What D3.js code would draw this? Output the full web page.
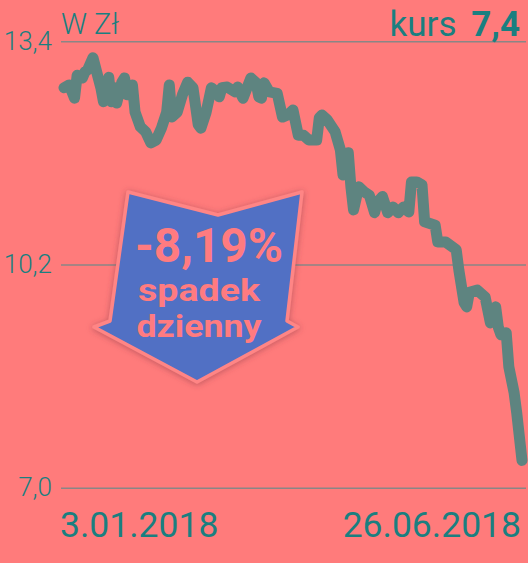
<!DOCTYPE html>
<html><head><meta charset="utf-8">
<script src="https://cdn.jsdelivr.net/npm/d3@7"></script>
<style>
html,body{margin:0;padding:0;background:#FF7B7B;}
svg{display:block;}
text{font-family:Roboto,"Noto Sans",sans-serif;}
</style></head>
<body><svg id="c" width="528" height="563"></svg>
<script>
const dates = ["2018-01-03","2018-01-05","2018-01-07","2018-01-08","2018-01-10","2018-01-11","2018-01-12","2018-01-14","2018-01-16","2018-01-17",
"2018-01-18","2018-01-20","2018-01-21","2018-01-22","2018-01-23","2018-01-25","2018-01-26","2018-01-27","2018-01-29","2018-01-30",
"2018-02-01","2018-02-03","2018-02-05","2018-02-07","2018-02-09","2018-02-11","2018-02-12","2018-02-13","2018-02-15","2018-02-17",
"2018-02-19","2018-02-21","2018-02-23","2018-02-24","2018-02-26","2018-02-28","2018-03-02","2018-03-03","2018-03-04","2018-03-06",
"2018-03-09","2018-03-10","2018-03-12","2018-03-15","2018-03-17","2018-03-18","2018-03-19","2018-03-20","2018-03-22","2018-03-25",
"2018-03-27","2018-03-29","2018-03-31","2018-04-02","2018-04-04","2018-04-06","2018-04-09","2018-04-10","2018-04-11","2018-04-13",
"2018-04-16","2018-04-18","2018-04-19","2018-04-20","2018-04-21","2018-04-22","2018-04-23","2018-04-25","2018-04-27","2018-04-29",
"2018-05-01","2018-05-02","2018-05-04","2018-05-06","2018-05-08","2018-05-10","2018-05-12","2018-05-14","2018-05-15","2018-05-17",
"2018-05-19","2018-05-20","2018-05-24","2018-05-25","2018-05-28","2018-06-01","2018-06-02","2018-06-04","2018-06-05","2018-06-06",
"2018-06-09","2018-06-12","2018-06-14","2018-06-16","2018-06-17","2018-06-18","2018-06-20","2018-06-21","2018-06-23","2018-06-24",
"2018-06-26"];
const values = [12.74,12.78,12.59,12.92,12.88,12.97,13.00,13.17,12.88,12.74,
12.54,12.89,12.54,12.74,12.52,12.82,12.88,12.64,12.78,12.39,
12.18,12.11,11.95,11.99,12.16,12.39,12.78,12.32,12.39,12.64,
12.82,12.74,12.21,12.16,12.39,12.74,12.68,12.61,12.74,12.75,
12.68,12.75,12.59,12.88,12.81,12.61,12.59,12.81,12.68,12.66,
12.32,12.35,12.42,12.06,12.06,11.99,11.99,12.31,12.35,12.28,
12.11,11.85,11.49,11.52,11.81,11.32,10.99,11.32,11.25,11.20,
10.95,11.10,11.18,10.95,11.03,10.95,11.03,10.96,11.39,11.39,
11.35,10.82,10.77,10.53,10.53,10.42,10.13,9.66,9.60,9.81,
9.84,9.74,9.37,9.60,9.31,9.20,9.23,8.74,8.37,8.08,
7.40];
const yTicks = [7.0, 10.2, 13.4];
const yTickLabels = ["7,0", "10,2", "13,4"];
const unitLabel = "W Zł";
const kursLabel = "kurs";
const kursValue = "7,4";
const xLabels = ["3.01.2018", "26.06.2018"];
const badge = ["-8,19%", "spadek", "dzienny"];

const parse = d3.timeParse("%Y-%m-%d");
const data = dates.map((d,i)=>({date:parse(d), v:values[i]}));

const svg = d3.select("#c");
const teal = "#1A7F80";
const x = d3.scaleTime().domain([parse(dates[0]), parse(dates[dates.length-1])]).range([64, 522]);
const y = d3.scaleLinear().domain([7.0, 13.4]).range([488.3, 41.7]);

svg.append("rect").attr("width",528).attr("height",563).attr("fill","#FF7B7B");

// gridlines + labels
const g = svg.append("g");
yTicks.forEach((t,i)=>{
  g.append("line").attr("x1",61).attr("x2",526).attr("y1",y(t)).attr("y2",y(t))
    .attr("stroke","#8A8686").attr("stroke-width",1.6);
  g.append("text").attr("x",52).attr("y",y(t)+8).attr("text-anchor","end")
    .attr("font-size",26).attr("font-weight",300).attr("fill",teal).text(yTickLabels[i]);
});

svg.append("text").attr("x",61).attr("y",34).attr("font-size",29).attr("font-weight",300)
  .attr("fill",teal).text(unitLabel);
const kt = svg.append("text").attr("x",520).attr("y",36).attr("text-anchor","end").attr("fill",teal);
kt.append("tspan").attr("font-size",35).attr("font-weight",400).text(kursLabel + " ");
kt.append("tspan").attr("font-size",35).attr("font-weight",700).attr("dx",6).text(kursValue);

// line
svg.append("path").datum(data)
  .attr("d", d3.line().x(d=>x(d.date)).y(d=>y(d.v)))
  .attr("fill","none").attr("stroke","#5E8480").attr("stroke-width",11)
  .attr("stroke-linejoin","round").attr("stroke-linecap","round");

// x labels
svg.append("text").attr("x",60).attr("y",537).attr("font-size",35.5).attr("fill",teal).text(xLabels[0]);
svg.append("text").attr("x",521).attr("y",537).attr("text-anchor","end").attr("font-size",35.5).attr("fill",teal).text(xLabels[1]);

// badge arrow
const defs = svg.append("defs");
const f = defs.append("filter").attr("id","sh").attr("x","-20%").attr("y","-20%").attr("width","140%").attr("height","140%");
f.append("feDropShadow").attr("dx",0).attr("dy",1).attr("stdDeviation",3).attr("flood-color","#8a3a4a").attr("flood-opacity",0.55);
const arrowPts = [[128,192],[218,215],[302,192],[287,321],[298,327],[197,382],[94,327],[110,321]];
svg.append("path").attr("d", d3.line()(arrowPts) + "Z")
  .attr("fill","#516FC4").attr("stroke","#FF8585").attr("stroke-width",3.5)
  .attr("stroke-linejoin","round").attr("filter","url(#sh)");
const pink = "#FF7B80";
svg.append("text").attr("x",209).attr("y",262).attr("text-anchor","middle").attr("font-size",48)
  .attr("font-weight",700).attr("fill",pink).attr("textLength",148).attr("lengthAdjust","spacingAndGlyphs").text(badge[0]);
svg.append("text").attr("x",199).attr("y",301).attr("text-anchor","middle").attr("font-size",31)
  .attr("font-weight",700).attr("fill",pink).attr("textLength",122).attr("lengthAdjust","spacingAndGlyphs").text(badge[1]);
svg.append("text").attr("x",199).attr("y",337).attr("text-anchor","middle").attr("font-size",31)
  .attr("font-weight",700).attr("fill",pink).attr("textLength",125).attr("lengthAdjust","spacingAndGlyphs").text(badge[2]);
</script></body></html>
